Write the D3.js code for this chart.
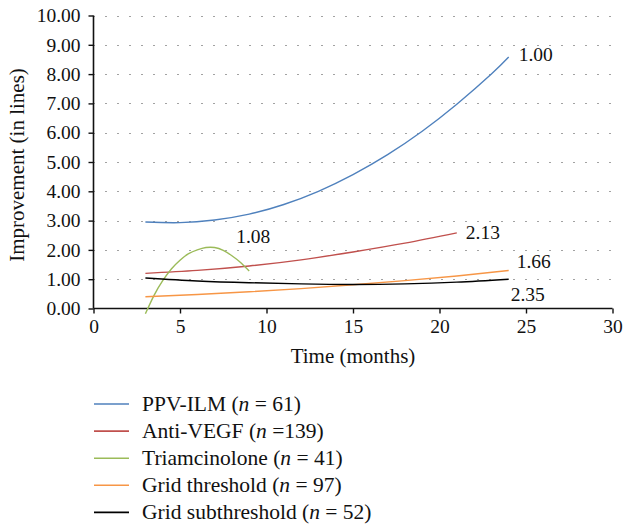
<!DOCTYPE html>
<html>
<head>
<meta charset="utf-8">
<script src="https://cdn.jsdelivr.net/npm/d3@7"></script>
<style>
  body { margin: 0; background: #fff; }
  svg { display: block; }
  text { font-family: "Liberation Serif", "Times New Roman", serif; fill: #111; }
</style>
</head>
<body>
<svg id="mainsvg" width="624" height="524"></svg>
<script>
// values
var seriesNames = ["PPV-ILM", "Anti-VEGF", "Triamcinolone", "Grid threshold", "Grid subthreshold"];
var seriesN = ["= 61", "=139", "= 41", "= 97", "= 52"];
var endLabels = ["1.00", "2.13", "1.08", "1.66", "2.35"];

var ppvMonths = [3, 5, 7, 9, 11, 13, 15, 17, 19, 21, 23, 24];
var ppvValues = [2.95, 2.93, 3.02, 3.22, 3.55, 4.0, 4.57, 5.25, 6.05, 6.97, 8.0, 8.58];

var vegfMonths = [3, 6, 9, 12, 15, 18, 21];
var vegfValues = [1.2, 1.3, 1.45, 1.66, 1.93, 2.23, 2.58];

var triMonths = [3, 3.5, 4, 4.5, 5, 5.5, 6, 6.5, 7, 7.5, 8, 8.5, 9];
var triValues = [-0.18, 0.45, 0.95, 1.35, 1.65, 1.87, 2.0, 2.08, 2.08, 1.98, 1.8, 1.57, 1.28];

var gridMonths = [3, 6, 9, 12, 15, 18, 21, 24];
var gridValues = [0.4, 0.48, 0.57, 0.68, 0.81, 0.95, 1.11, 1.3];

var subMonths = [3, 6, 9, 12, 15, 18, 21, 24];
var subValues = [1.04, 0.94, 0.88, 0.84, 0.82, 0.84, 0.9, 1.0];

var xTicks = [0, 5, 10, 15, 20, 25, 30];
var yTicks = [0, 1, 2, 3, 4, 5, 6, 7, 8, 9, 10];

var colors = ["#4f81bd", "#c0504d", "#9bbb59", "#f79646", "#000000"];
// where each end label sits relative to the end of its curve
var labelOffsets = [[10, 4], [9, 6], [-13, -28], [8, -2], [2, 22]];

var svg = d3.select("#mainsvg");
var plotLeft = 93.5,
  plotRight = 612.5,
  plotTop = 15.5,
  plotBottom = 308.5;

var x = d3.scaleLinear().domain([0, 30]).range([plotLeft, plotRight]);
var y = d3.scaleLinear().domain([0, 10]).range([plotBottom, plotTop]);

var series = [
  [ppvMonths, ppvValues],
  [vegfMonths, vegfValues],
  [triMonths, triValues],
  [gridMonths, gridValues],
  [subMonths, subValues]
].map(function (s, i) {
  return {
    name: seriesNames[i],
    n: seriesN[i],
    label: endLabels[i],
    color: colors[i],
    points: s[0].map(function (m, j) {
      return { x: m, y: s[1][j] };
    })
  };
});

// dotted grid
svg
  .append("g")
  .attr("class", "grid")
  .selectAll("line")
  .data(yTicks.filter(function (d) { return d > 0; }))
  .enter()
  .append("line")
  .attr("x1", plotLeft)
  .attr("x2", plotRight)
  .attr("y1", function (d) { return Math.round(y(d)) + 0.5; })
  .attr("y2", function (d) { return Math.round(y(d)) + 0.5; })
  .attr("stroke", "#444")
  .attr("stroke-width", 1)
  .attr("stroke-dasharray", "1,11");

// axes
var xAxis = d3.axisBottom(x).tickValues(xTicks).tickSize(5).tickPadding(6);
var yAxis = d3
  .axisLeft(y)
  .tickValues(yTicks)
  .tickSize(5)
  .tickPadding(8)
  .tickFormat(d3.format(".2f"));

var gx = svg
  .append("g")
  .attr("transform", "translate(0," + plotBottom + ")")
  .call(xAxis);
var gy = svg
  .append("g")
  .attr("transform", "translate(" + plotLeft + ",0)")
  .call(yAxis);

[gx, gy].forEach(function (g) {
  g.select(".domain").attr("stroke", "#111").attr("stroke-width", 1.6);
  g.selectAll(".tick line").attr("stroke", "#111").attr("stroke-width", 1.4);
  g.selectAll(".tick text")
    .style("font-family", "Liberation Serif")
    .style("font-size", "19.5px")
    .attr("fill", "#111");
});
gy.select(".domain").attr("d", "M0," + plotTop + "V" + plotBottom);
gx.select(".domain").attr("d", "M" + plotLeft + ",0H" + plotRight);

// axis titles
svg
  .append("text")
  .attr("x", (plotLeft + plotRight) / 2)
  .attr("y", 363)
  .attr("text-anchor", "middle")
  .style("font-size", "21px")
  .text("Time (months)");

svg
  .append("text")
  .attr("transform", "translate(24,165) rotate(-90)")
  .attr("text-anchor", "middle")
  .style("font-size", "21px")
  .text("Improvement (in lines)");

// curves
var line = d3
  .line()
  .x(function (d) { return x(d.x); })
  .y(function (d) { return y(d.y); })
  .curve(d3.curveNatural);

svg
  .append("g")
  .attr("class", "lines")
  .selectAll("path")
  .data(series)
  .enter()
  .append("path")
  .attr("d", function (d) { return line(d.points); })
  .attr("fill", "none")
  .attr("stroke", function (d) { return d.color; })
  .attr("stroke-width", 1.4);

// end labels
svg
  .append("g")
  .attr("class", "end-labels")
  .selectAll("text")
  .data(series)
  .enter()
  .append("text")
  .attr("x", function (d, i) {
    return x(d.points[d.points.length - 1].x) + labelOffsets[i][0];
  })
  .attr("y", function (d, i) {
    return y(d.points[d.points.length - 1].y) + labelOffsets[i][1];
  })
  .style("font-size", "19.5px")
  .text(function (d) { return d.label; });

// legend
var legend = svg
  .append("g")
  .attr("class", "legend")
  .selectAll("g")
  .data(series)
  .enter()
  .append("g")
  .attr("transform", function (d, i) {
    return "translate(94," + (404 + i * 27.1) + ")";
  });

legend
  .append("line")
  .attr("x1", 0)
  .attr("x2", 35)
  .attr("y1", 0)
  .attr("y2", 0)
  .attr("stroke", function (d) { return d.color; })
  .attr("stroke-width", 1.6);

var legendText = legend
  .append("text")
  .attr("x", 48)
  .attr("y", 6.5)
  .style("font-size", "21.5px");
legendText.append("tspan").text(function (d) { return d.name + " ("; });
legendText
  .append("tspan")
  .style("font-style", "italic")
  .text("n");
legendText.append("tspan").text(function (d) { return " " + d.n + ")"; });
</script>
</body>
</html>
